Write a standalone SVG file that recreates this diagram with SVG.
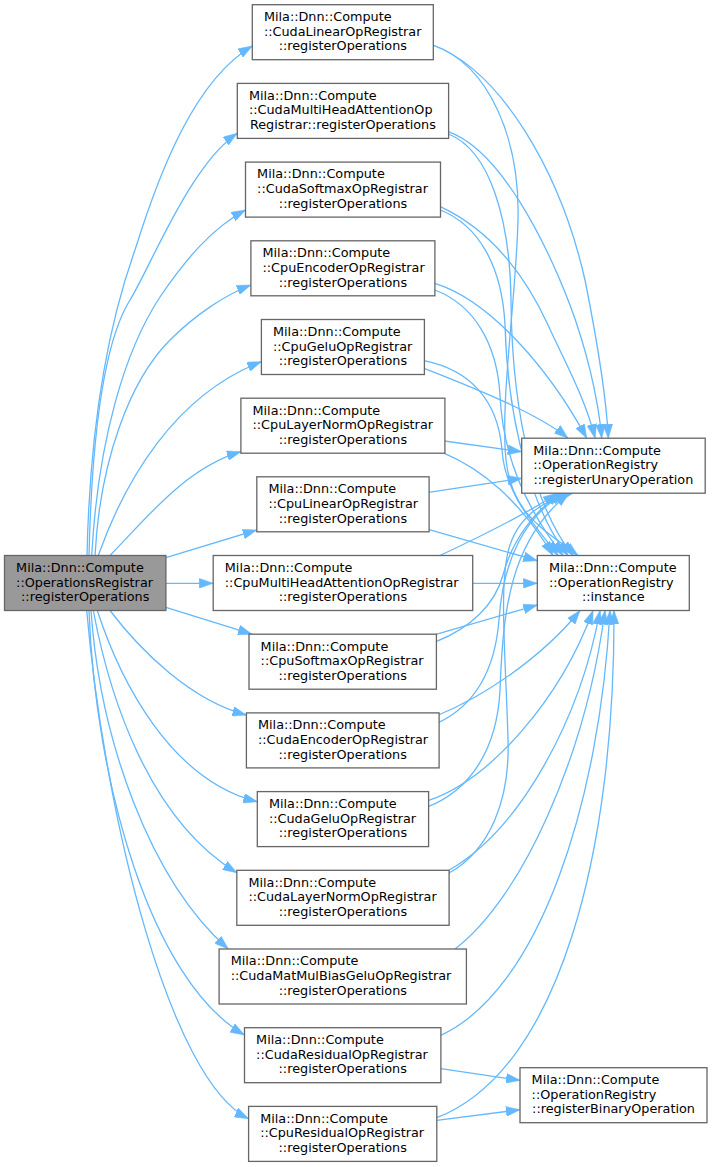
<svg xmlns="http://www.w3.org/2000/svg" width="712" height="1167" viewBox="0 0 712 1167">
<style>
.e{fill:none;stroke:#63b8ff;stroke-width:1.3;marker-end:url(#ah)}
.n rect{fill:#ffffff;stroke:#666666;stroke-width:1.3}
.root rect{fill:#999999}
text{font-family:"DejaVu Sans","Noto Sans",sans-serif;font-size:12.8px;fill:#000000}
.m{text-anchor:middle}
</style>
<defs>
<marker id="ah" markerUnits="userSpaceOnUse" markerWidth="14" markerHeight="10" viewBox="0 0 13.3 9.34" refX="13.3" refY="4.67" orient="auto">
<path d="M0,0 L13.3,4.67 L0,9.34 Z" fill="#63b8ff" stroke="#63b8ff" stroke-width="0.5"/>
</marker>
</defs>
<rect width="712" height="1167" fill="#ffffff"/>
<g id="edges">
<path class="e" d="M87,555.5 C90,420 110,320 135,250 C160,170 195,80 252.3,46"/>
<path class="e" d="M89,555.5 C92,430 105,340 130,300 C150,268 190,165 237.3,133.3"/>
<path class="e" d="M91.7,555.5 C98,440 125,350 160,297 C185,260 212,228 245.5,210"/>
<path class="e" d="M95,555.5 C100,460 130,380 170,340 C195,315 225,295 250.9,285"/>
<path class="e" d="M98.3,555.5 C125,480 175,395 261.4,361.7"/>
<path class="e" d="M110,555.5 C145,520 185,468 240.9,451.7"/>
<path class="e" d="M165.9,557.7 L256.8,530"/>
<path class="e" d="M165.9,583.3 L213.2,583.3"/>
<path class="e" d="M165.9,607.3 L252,634.2"/>
<path class="e" d="M110,610.5 C140,650 190,700 246.4,715"/>
<path class="e" d="M97.3,610.5 C120,680 170,780 257.3,801.7"/>
<path class="e" d="M93.3,610.5 C110,700 150,820 236.8,872.7"/>
<path class="e" d="M91,610.5 C100,740 150,880 228.3,949"/>
<path class="e" d="M89,610.5 C95,780 150,980 244.5,1035"/>
<path class="e" d="M86.7,610.5 C105,820 170,1080 248.6,1118.7"/>

<path class="e" d="M432.7,45 C500,70 560,170 585,280 C595,330 606,390 608.3,438.2"/>
<path class="e" d="M448.3,131.7 C500,150 545,240 570,305 C585,345 598,395 601.7,438.2"/>
<path class="e" d="M440.3,206.7 C490,230 525,275 548,325 C565,362 586,400 595,438.2"/>
<path class="e" d="M434.7,283.3 C490,300 550,370 586.7,438.2"/>
<path class="e" d="M424,368.3 C480,390 540,415 568,438.2"/>
<path class="e" d="M444.3,441 L521.7,451.7"/>
<path class="e" d="M428.3,492.3 L521.7,478.3"/>

<path class="e" d="M444.3,453.3 C480,468 520,500 553,555.5"/>
<path class="e" d="M424,360.7 C470,370 498,400 502,450 C505,495 535,525 558,555.5"/>
<path class="e" d="M434.7,290 C475,305 497,345 500,395 C503,465 535,520 563,555.5"/>
<path class="e" d="M440.3,210 C478,225 502,265 505,325 C508,430 535,515 568,555.5"/>
<path class="e" d="M448.3,134 C490,150 510,220 511,300 C512,430 540,515 573,555.5"/>
<path class="e" d="M432.7,45 C490,65 520,140 518,220 C516,300 500,400 506,460 C512,515 545,530 578,555.5"/>

<path class="e" d="M440,555.5 C490,532 530,512 557,493.2"/>
<path class="e" d="M436,641.7 C470,628 495,605 503,575 C512,540 535,510 561,493.2"/>
<path class="e" d="M438.3,722.7 C475,705 495,670 499,620 C503,560 525,515 565,493.2"/>
<path class="e" d="M428,806.7 C470,790 497,750 500,690 C503,610 510,540 569,493.2"/>
<path class="e" d="M448.7,873.3 C490,850 510,800 508,740 C506,660 498,580 510,545 C520,515 545,500 573,493.2"/>

<path class="e" d="M428.3,529.3 L537.3,560.7"/>
<path class="e" d="M471.7,583.3 L537.3,583.3"/>
<path class="e" d="M436,634.3 L537.3,605"/>
<path class="e" d="M438.3,715 C480,698 540,660 580,610.5"/>
<path class="e" d="M428,800.7 C490,780 560,700 593,610.5"/>
<path class="e" d="M448.7,870.3 C520,830 580,720 600,610.5"/>
<path class="e" d="M455,949 C520,900 585,760 605,610.5"/>
<path class="e" d="M440.7,1035.3 C540,990 600,800 610,610.5"/>
<path class="e" d="M436.7,1117.7 C560,1070 615,850 614,610.5"/>
<path class="e" d="M440.9,1068.7 L520,1080.3"/>
<path class="e" d="M436.8,1120.3 L520,1109.7"/>
</g>

<g id="root" class="n root">
<rect x="4.5" y="555.5" width="161.4" height="55"/>
<text x="16.1" y="571.8">Mila::Dnn::Compute</text>
<text x="16.1" y="586.5">::OperationsRegistrar</text>
<text class="m" x="85.2" y="601.2">::registerOperations</text>
</g>

<g id="cudaLinear" class="n">
<rect x="252.3" y="4.7" width="181" height="55"/>
<text x="263.9" y="21">Mila::Dnn::Compute</text>
<text x="263.9" y="35.7">::CudaLinearOpRegistrar</text>
<text class="m" x="342.8" y="50.4">::registerOperations</text>
</g>

<g id="cudaMultiHead" class="n">
<rect x="237.3" y="83.4" width="211.3" height="55"/>
<text x="248.9" y="99.7">Mila::Dnn::Compute</text>
<text x="248.9" y="114.4">::CudaMultiHeadAttentionOp</text>
<text class="m" x="342.9" y="129.1">Registrar::registerOperations</text>
</g>

<g id="cudaSoftmax" class="n">
<rect x="245.5" y="162.1" width="195" height="55"/>
<text x="257.1" y="178.4">Mila::Dnn::Compute</text>
<text x="257.1" y="193.1">::CudaSoftmaxOpRegistrar</text>
<text class="m" x="343" y="207.8">::registerOperations</text>
</g>

<g id="cpuEncoder" class="n">
<rect x="250.9" y="240.8" width="184" height="55"/>
<text x="262.5" y="257.1">Mila::Dnn::Compute</text>
<text x="262.5" y="271.8">::CpuEncoderOpRegistrar</text>
<text class="m" x="342.9" y="286.5">::registerOperations</text>
</g>

<g id="cpuGelu" class="n">
<rect x="261.4" y="319.5" width="163" height="55"/>
<text x="273" y="335.8">Mila::Dnn::Compute</text>
<text x="273" y="350.5">::CpuGeluOpRegistrar</text>
<text class="m" x="342.9" y="365.2">::registerOperations</text>
</g>

<g id="cpuLayerNorm" class="n">
<rect x="240.9" y="398.2" width="204" height="55"/>
<text x="252.5" y="414.5">Mila::Dnn::Compute</text>
<text x="252.5" y="429.2">::CpuLayerNormOpRegistrar</text>
<text class="m" x="342.9" y="443.9">::registerOperations</text>
</g>

<g id="cpuLinear" class="n">
<rect x="256.8" y="476.8" width="172.3" height="55"/>
<text x="268.4" y="493.1">Mila::Dnn::Compute</text>
<text x="268.4" y="507.8">::CpuLinearOpRegistrar</text>
<text class="m" x="342.9" y="522.5">::registerOperations</text>
</g>

<g id="cpuMultiHead" class="n">
<rect x="213.2" y="555.5" width="259.5" height="55"/>
<text x="224.8" y="571.8">Mila::Dnn::Compute</text>
<text x="224.8" y="586.5">::CpuMultiHeadAttentionOpRegistrar</text>
<text class="m" x="342.9" y="601.2">::registerOperations</text>
</g>

<g id="cpuSoftmax" class="n">
<rect x="249" y="634.2" width="187.4" height="55"/>
<text x="260.6" y="650.5">Mila::Dnn::Compute</text>
<text x="260.6" y="665.2">::CpuSoftmaxOpRegistrar</text>
<text class="m" x="342.7" y="679.9">::registerOperations</text>
</g>

<g id="cudaEncoder" class="n">
<rect x="246.4" y="712.9" width="192.7" height="55"/>
<text x="258" y="729.2">Mila::Dnn::Compute</text>
<text x="258" y="743.9">::CudaEncoderOpRegistrar</text>
<text class="m" x="342.7" y="758.6">::registerOperations</text>
</g>

<g id="cudaGelu" class="n">
<rect x="257.3" y="791.6" width="171.3" height="55"/>
<text x="268.9" y="807.9">Mila::Dnn::Compute</text>
<text x="268.9" y="822.6">::CudaGeluOpRegistrar</text>
<text class="m" x="342.9" y="837.3">::registerOperations</text>
</g>

<g id="cudaLayerNorm" class="n">
<rect x="236.8" y="870.3" width="212.3" height="55"/>
<text x="248.4" y="886.6">Mila::Dnn::Compute</text>
<text x="248.4" y="901.3">::CudaLayerNormOpRegistrar</text>
<text class="m" x="342.9" y="916">::registerOperations</text>
</g>

<g id="cudaMatMulBiasGelu" class="n">
<rect x="219.1" y="949" width="247.3" height="55"/>
<text x="230.7" y="965.3">Mila::Dnn::Compute</text>
<text x="230.7" y="980">::CudaMatMulBiasGeluOpRegistrar</text>
<text class="m" x="342.8" y="994.7">::registerOperations</text>
</g>

<g id="cudaResidual" class="n">
<rect x="244.5" y="1027.7" width="196.4" height="55"/>
<text x="256.1" y="1044">Mila::Dnn::Compute</text>
<text x="256.1" y="1058.7">::CudaResidualOpRegistrar</text>
<text class="m" x="342.7" y="1073.4">::registerOperations</text>
</g>

<g id="cpuResidual" class="n">
<rect x="248.6" y="1106.4" width="188.2" height="55"/>
<text x="260.2" y="1122.7">Mila::Dnn::Compute</text>
<text x="260.2" y="1137.4">::CpuResidualOpRegistrar</text>
<text class="m" x="342.7" y="1152.1">::registerOperations</text>
</g>

<g id="registerUnaryOperation" class="n">
<rect x="521.7" y="438.2" width="183.5" height="55"/>
<text x="533.3" y="454.5">Mila::Dnn::Compute</text>
<text x="533.3" y="469.2">::OperationRegistry</text>
<text class="m" x="613.4" y="483.9">::registerUnaryOperation</text>
</g>

<g id="instance" class="n">
<rect x="537.3" y="555.5" width="152" height="55"/>
<text x="548.9" y="571.8">Mila::Dnn::Compute</text>
<text x="548.9" y="586.5">::OperationRegistry</text>
<text class="m" x="613.3" y="601.2">::instance</text>
</g>

<g id="registerBinaryOperation" class="n">
<rect x="520" y="1067.7" width="187" height="55"/>
<text x="531.6" y="1084">Mila::Dnn::Compute</text>
<text x="531.6" y="1098.7">::OperationRegistry</text>
<text class="m" x="613.5" y="1113.4">::registerBinaryOperation</text>
</g>
</svg>
